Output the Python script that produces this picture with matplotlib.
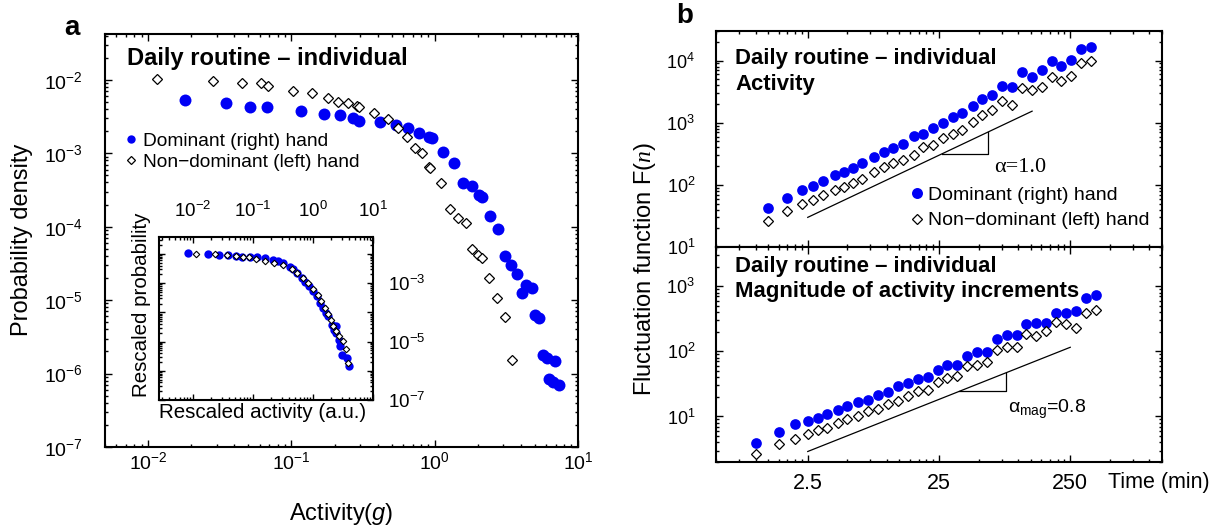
import matplotlib
matplotlib.use("Agg")
import matplotlib.pyplot as plt
from matplotlib.lines import Line2D
from matplotlib.ticker import FixedLocator, NullFormatter, FuncFormatter, LogLocator

plt.rcParams['font.family'] = ['Liberation Sans', 'DejaVu Sans']
plt.rcParams['mathtext.fontset'] = 'custom'
plt.rcParams['mathtext.rm'] = 'Liberation Sans'
plt.rcParams['mathtext.it'] = 'Liberation Serif:italic'
plt.rcParams['mathtext.sf'] = 'Liberation Sans:italic'
plt.rcParams['mathtext.bf'] = 'Liberation Sans:bold'

BLUE = '#0000f5'

# ---------------- panel a: activity distributions ----------------
act_dom = [0.0182, 0.0351, 0.0516, 0.0679, 0.1175, 0.1675, 0.217, 0.267, 0.294,
           0.412, 0.533, 0.647, 0.772, 0.908, 0.953, 1.137, 1.358, 1.57, 1.815,
           2.03, 2.13, 2.43, 2.76, 3.09, 3.40, 3.74, 4.06, 4.33, 4.76, 5.00, 5.34,
           5.69, 6.07, 6.90, 6.27, 6.69, 7.36]
pdf_dom = [5.34e-3, 4.87e-3, 4.29e-3, 4.29e-3, 3.79e-3, 3.44e-3, 3.34e-3, 3.04e-3,
           2.77e-3, 2.68e-3, 2.44e-3, 2.22e-3, 1.90e-3, 1.68e-3, 1.62e-3, 1.05e-3,
           7.43e-4, 3.97e-4, 3.61e-4, 2.72e-4, 2.56e-4, 1.41e-4, 9.4e-5, 4.03e-5,
           3.04e-5, 2.30e-5, 1.26e-5, 1.63e-5, 1.48e-5, 6.35e-6, 5.78e-6, 1.81e-6,
           1.65e-6, 1.46e-6, 8.55e-7, 7.78e-7, 7.08e-7]
act_nd = [0.01156, 0.0285, 0.0454, 0.0617, 0.069, 0.1032, 0.140, 0.179, 0.210,
          0.247, 0.285, 0.294, 0.380, 0.469, 0.551, 0.637, 0.724, 0.811, 0.908,
          0.923, 1.10, 1.27, 1.45, 1.65, 1.82, 2.00, 2.13, 2.39, 2.72, 3.09, 3.45]
pdf_nd = [1.03e-2, 9.7e-3, 9.1e-3, 9.1e-3, 8.3e-3, 7.08e-3, 6.65e-3, 5.69e-3,
          5.02e-3, 4.87e-3, 4.43e-3, 4.29e-3, 3.56e-3, 2.94e-3, 2.22e-3, 1.68e-3,
          1.19e-3, 1.02e-3, 6.55e-4, 6.35e-4, 3.97e-4, 1.76e-4, 1.32e-4, 1.13e-4,
          5.02e-5, 4.16e-5, 3.78e-5, 2.02e-5, 1.08e-5, 5.97e-6, 1.55e-6]

# inset: rescaled distributions
res_act_dom = [0.00835, 0.0180, 0.0274, 0.0378, 0.0521, 0.0648, 0.0891, 0.115, 0.158,
               0.213, 0.264, 0.320, 0.414, 0.470, 0.535, 0.648, 0.736, 0.869, 1.01,
               1.15, 1.31, 1.49, 1.65, 1.80, 2.05, 2.42, 2.24, 2.42, 2.75, 2.82, 3.01,
               3.64, 4.03]
res_pdf_dom = [1.057e-2, 9.75e-3, 9.25e-3, 9.25e-3, 8.77e-3, 8.11e-3, 8.11e-3, 7.69e-3,
               7.11e-3, 6.24e-3, 5.77e-3, 4.80e-3, 3.70e-3, 3.08e-3, 2.19e-3, 1.48e-3,
               1.08e-3, 7.69e-4, 5.19e-4, 3.50e-4, 2.07e-4, 1.40e-4, 9.45e-5, 7.28e-5,
               3.77e-5, 3.31e-5, 2.55e-5, 1.96e-5, 1.16e-5, 6.86e-6, 3.57e-6, 2.75e-6,
               1.43e-6]
res_act_nd = [0.0112, 0.0233, 0.0364, 0.0521, 0.069, 0.0868, 0.112, 0.158, 0.224,
              0.320, 0.441, 0.535, 0.690, 0.835, 1.01, 1.23, 1.34, 1.58, 1.80, 2.0,
              2.13, 2.42, 2.75, 3.12, 3.55, 3.88]
res_pdf_nd = [9.75e-3, 9.75e-3, 9.25e-3, 8.77e-3, 8.11e-3, 7.69e-3, 6.75e-3, 5.91e-3,
              5.06e-3, 4.22e-3, 3.08e-3, 2.19e-3, 1.48e-3, 1.0e-3, 6.38e-4, 3.99e-4,
              2.36e-4, 1.40e-4, 8.75e-5, 5.59e-5, 3.31e-5, 2.23e-5, 1.51e-5, 1.07e-5,
              5.73e-6, 1.86e-6]

# ---------------- panel b: fluctuation functions ----------------
t_act = [1.25, 1.75, 2.25, 2.75, 3.25, 4.0, 4.75, 5.5, 6.5, 8.0, 9.5, 11.25, 13.25,
         16.0, 19.0, 22.5, 27.0, 32.0, 37.75, 45.0, 53.5, 63.75, 75.5, 89.75, 107,
         128, 152, 182, 214, 253, 301, 362]
F_act_dom = [42.1, 62.4, 83.0, 96.3, 116, 145, 160, 186, 229, 280, 337, 391, 459, 601,
             665, 822, 989, 1236, 1433, 1832, 2411, 2830, 3850, 3764, 6470, 5460,
             6980, 9750, 8300, 10380, 15450, 16640]
F_act_nd = [26.2, 38.5, 49.4, 57.3, 69.0, 83.0, 94.0, 109, 124, 164, 197, 224, 253,
            305, 406, 442, 566, 665, 771, 1026, 1312, 1579, 2206, 1950, 3630, 3320,
            3764, 5380, 4630, 5580, 9180, 10000]

t_mag = [1.0, 1.5, 2.0, 2.5, 3.0, 3.5, 4.25, 5.0, 6.0, 7.25, 8.5, 10.25, 12.25, 14.5,
         17.25, 20.5, 24.5, 29.0, 34.25, 41.0, 49.0, 58.0, 69.25, 82.25, 98.0, 115,
         137, 164, 195, 232, 276, 329, 392]
F_mag_dom = [3.96, 5.83, 7.74, 8.48, 9.55, 11.1, 12.4, 14.4, 16.8, 18.2, 21.1, 23.8,
             29.0, 32.7, 38.0, 40.4, 52.2, 60.7, 62.2, 85.4, 99.3, 99.3, 155, 180,
             179, 263, 270, 270, 383, 383, 415, 662, 729]
F_mag_nd = [2.63, 3.74, 4.57, 5.45, 6.18, 6.72, 8.01, 9.00, 10.1, 12.1, 13.2, 15.8,
            17.1, 20.4, 24.3, 25.2, 34.2, 39.0, 41.2, 58.6, 62.2, 69.8, 105, 116, 118,
            185, 172, 208, 285, 260, 226, 391, 430]

# guide lines: reference scaling exponents
alpha_act, alpha_mag = 1.0, 0.8

W, H = 1228, 529
fig = plt.figure(figsize=(W / 100, H / 100), dpi=100)


def rect(left, top, right, bottom):
    return [left / W, 1 - bottom / H, (right - left) / W, (bottom - top) / H]


def fxy(x, y):
    return x / W, 1 - y / H


def style_axes(ax, size, pad_x, pad_y):
    for s in ax.spines.values():
        s.set_linewidth(1.5)
    ax.tick_params(which='both', direction='in', top=True, right=True, width=1)
    ax.tick_params(which='major', length=5)
    ax.tick_params(which='minor', length=2.5)
    ax.tick_params(axis='x', labelsize=size, pad=pad_x)
    ax.tick_params(axis='y', labelsize=size, pad=pad_y)


# ===== panel a =====
axa = fig.add_axes(rect(105, 34, 578, 447))
axa.set_xscale('log')
axa.set_yscale('log')
axa.plot(act_dom, pdf_dom, 'o', color=BLUE, ms=8.6, mec='none', zorder=2)
axa.plot(act_nd, pdf_nd, 'D', mfc='white', mec='black', mew=0.9, ms=5.1, zorder=3)
axa.set_xlim(0.005, 10)
axa.set_ylim(1e-7, 0.042)
axa.xaxis.set_major_locator(LogLocator(base=10, numticks=10))
axa.xaxis.set_minor_locator(LogLocator(base=10, subs=range(2, 10), numticks=20))
axa.yaxis.set_major_locator(LogLocator(base=10, numticks=10))
axa.yaxis.set_minor_locator(LogLocator(base=10, subs=range(2, 10), numticks=20))
axa.xaxis.set_minor_formatter(NullFormatter())
axa.yaxis.set_minor_formatter(NullFormatter())
style_axes(axa, 14, 3, 16)

hd = [Line2D([], [], ls='none', marker='o', color=BLUE, mec='none', ms=6),
      Line2D([], [], ls='none', marker='D', mfc='white', mec='black', mew=0.9, ms=4.1)]
axa.legend(hd, ['Dominant (right) hand', 'Non\u2212dominant (left) hand'],
           loc='upper left', bbox_to_anchor=fxy(125.3, 132.5), bbox_transform=fig.transFigure,
           frameon=False, fontsize=13.8, borderpad=0, borderaxespad=0,
           handlelength=0.6, handletextpad=0.33, labelspacing=0.19)

# inset with rescaled axes
axi = fig.add_axes(rect(159, 237, 373, 400))
axi.set_xscale('log')
axi.set_yscale('log')
axi.plot(res_act_dom, res_pdf_dom, 'o', color=BLUE, ms=6, mec='none', zorder=2)
axi.plot(res_act_nd, res_pdf_nd, 'D', mfc='white', mec='black', mew=0.8, ms=3.3, zorder=3)
axi.set_xlim(10 ** -2.567, 10)
axi.set_ylim(1e-7, 10 ** -1.42)
axi.xaxis.set_major_locator(FixedLocator([1e-2, 1e-1, 1, 10]))
axi.xaxis.set_minor_locator(LogLocator(base=10, subs=range(2, 10), numticks=20))
axi.yaxis.set_major_locator(FixedLocator([1e-7, 1e-6, 1e-5, 1e-4, 1e-3, 1e-2]))
axi.yaxis.set_minor_locator(LogLocator(base=10, subs=range(2, 10), numticks=20))
axi.xaxis.set_minor_formatter(NullFormatter())
axi.yaxis.set_minor_formatter(NullFormatter())


def odd_decades(v, pos):
    import math
    e = int(round(math.log10(v)))
    return r'$\mathdefault{10^{%d}}$' % e if e % 2 else ''


axi.yaxis.set_major_formatter(FuncFormatter(odd_decades))
style_axes(axi, 13.5, 11.5, 11)
axi.tick_params(which='major', length=4)
axi.tick_params(which='minor', length=2)
axi.tick_params(labelbottom=False, labeltop=True, labelleft=False, labelright=True)
fig.text(*fxy(263, 418), 'Rescaled activity (a.u.)', fontsize=14.8,
         ha='center', va='baseline')
fig.text(*fxy(146.7, 305), 'Rescaled probability', fontsize=14.8, rotation=90,
         rotation_mode='anchor', ha='center', va='baseline')

fig.text(*fxy(127, 65.5), 'Daily routine \u2013 individual', fontsize=17.1,
         fontweight='bold', ha='left', va='baseline')
fig.text(*fxy(28.3, 240), 'Probability density', fontsize=17, rotation=90,
         rotation_mode='anchor', ha='center', va='baseline')
fig.text(*fxy(341.5, 520), r'Activity($\mathsf{g}$)', fontsize=17,
         ha='center', va='baseline')
fig.text(*fxy(64, 35), 'a', fontsize=20, fontweight='bold', ha='left', va='baseline')

# ===== panel b =====
minor_t = [0.25 * k * 10 ** m for m in range(0, 4) for k in range(2, 10)]
axb1 = fig.add_axes(rect(716, 31, 1162, 247))
axb2 = fig.add_axes(rect(716, 247, 1162, 462))
for ax in (axb1, axb2):
    ax.set_xscale('log')
    ax.set_yscale('log')
    ax.set_xlim(0.5, 1250)
    ax.xaxis.set_major_locator(FixedLocator([2.5, 25, 250]))
    ax.xaxis.set_minor_locator(FixedLocator(minor_t))
    ax.xaxis.set_major_formatter(FuncFormatter(lambda v, p: '%g' % v))
    ax.xaxis.set_minor_formatter(NullFormatter())
    ax.yaxis.set_major_locator(LogLocator(base=10, numticks=10))
    ax.yaxis.set_minor_locator(LogLocator(base=10, subs=range(2, 10), numticks=20))
    ax.yaxis.set_minor_formatter(NullFormatter())
    style_axes(ax, 13, 8, 15)
    ax.tick_params(axis='x', labelsize=15.5)

axb1.plot(t_act, F_act_dom, 'o', color=BLUE, ms=7.7, mec='none', zorder=2)
axb1.plot(t_act, F_act_nd, 'D', mfc='white', mec='black', mew=0.9, ms=5.4, zorder=3)
axb1.set_ylim(10, 3e4)
axb1.tick_params(labelbottom=False)

t_guide1 = [2.5, 128]
axb1.plot(t_guide1, [30 * (t / 2.5) ** alpha_act for t in t_guide1], color='black', lw=0.9)
tri1 = [26.2, 59.1]
y1 = [30 * (t / 2.5) ** alpha_act for t in tri1]
axb1.plot([tri1[0], tri1[1], tri1[1]], [y1[0], y1[0], y1[1]], color='black', lw=0.9)
fig.text(*fxy(994, 171.7), '\u03b1=1.0', fontsize=16, family='Liberation Serif',
         ha='left', va='baseline')

hb = [Line2D([], [], ls='none', marker='o', color=BLUE, mec='none', ms=7.9),
      Line2D([], [], ls='none', marker='D', mfc='white', mec='black', mew=0.9, ms=5.6)]
axb1.legend(hb, ['Dominant (right) hand', 'Non\u2212dominant (left) hand'],
            loc='upper left', bbox_to_anchor=fxy(911.2, 186), bbox_transform=fig.transFigure,
            frameon=False, fontsize=14, borderpad=0, borderaxespad=0,
            handlelength=0.6, handletextpad=0.27, labelspacing=0.42)

axb2.plot(t_mag, F_mag_dom, 'o', color=BLUE, ms=7.7, mec='none', zorder=2)
axb2.plot(t_mag, F_mag_nd, 'D', mfc='white', mec='black', mew=0.9, ms=5.4, zorder=3)
axb2.set_ylim(2, 4000)

t_guide2 = [2.5, 250]
axb2.plot(t_guide2, [2.9 * (t / 2.5) ** alpha_mag for t in t_guide2], color='black', lw=0.9)
tri2 = [35.6, 81.5]
y2 = [2.9 * (t / 2.5) ** alpha_mag for t in tri2]
axb2.plot([tri2[0], tri2[1], tri2[1]], [y2[0], y2[0], y2[1]], color='black', lw=0.9)
fig.text(*fxy(1008, 413.3), r'$\mathrm{\alpha_{mag}}$=0.8', fontsize=14,
         ha='left', va='baseline')

fig.text(*fxy(735, 64), 'Daily routine \u2013 individual', fontsize=15.9,
         fontweight='bold', ha='left', va='baseline')
fig.text(*fxy(735, 90), 'Activity', fontsize=15.9, fontweight='bold',
         ha='left', va='baseline')
fig.text(*fxy(735, 271.7), 'Daily routine \u2013 individual', fontsize=15.9,
         fontweight='bold', ha='left', va='baseline')
fig.text(*fxy(735, 296.7), 'Magnitude of activity increments', fontsize=15.9,
         fontweight='bold', ha='left', va='baseline')
fig.text(*fxy(1108, 488.3), 'Time (min)', fontsize=15.5, ha='left', va='baseline')
fig.text(*fxy(651, 269), r'Fluctuation function F($n$)', fontsize=17, rotation=90,
         rotation_mode='anchor', ha='center', va='baseline')
fig.text(*fxy(676, 23.3), 'b', fontsize=20, fontweight='bold', ha='left', va='baseline')

fig.savefig('out.png', dpi=100)
